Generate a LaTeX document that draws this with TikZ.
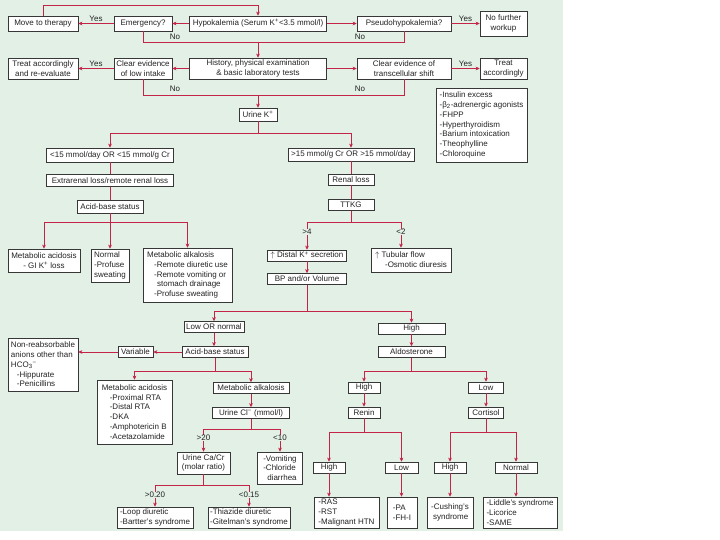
\documentclass[tikz,border=0pt]{standalone}
\usepackage{fontspec}
\setmainfont{Liberation Sans}
\usetikzlibrary{arrows.meta,shadows}
\definecolor{bgc}{RGB}{226,240,230}
\definecolor{redc}{RGB}{196,36,72}
\definecolor{boxc}{RGB}{55,55,55}
\definecolor{txtc}{RGB}{35,35,35}
\newcommand\myfs{\fontsize{8}{9.8}\selectfont}
\begin{document}
\begin{tikzpicture}[x=1pt,y=-1pt,
  bx/.style={draw=boxc, fill=white, line width=0.5pt, inner xsep=1.5pt, inner ysep=0.5pt,
    font=\myfs, text=txtc, align=center,
    drop shadow={shadow xshift=0.8pt,shadow yshift=-0.8pt,fill=black!50,opacity=0.7}},
  lbx/.style={bx, align=left},
  lab/.style={font=\myfs, text=txtc, inner sep=0.5pt},
  labf/.style={lab, fill=bgc},
  ln/.style={draw=redc, line width=0.8pt},
  ar/.style={draw=redc, line width=0.8pt, -{Stealth[length=4pt,width=3.6pt,inset=1pt]}}]
\useasboundingbox (0,0) rectangle (720,540);
\fill[bgc] (0,0) rectangle (563,531);

% row 1
\node[bx, minimum width=70, minimum height=15] (move) at (43,23.5) {Move to therapy};
\node[bx, minimum width=58, minimum height=15] (emerg) at (143,23.5) {Emergency?};
\node[bx, minimum width=137, minimum height=15] (hypo) at (258,23.5) {Hypokalemia (Serum K\textsuperscript{+}<3.5 mmol/l)};
\node[bx, minimum width=94, minimum height=15] (pseudo) at (404,23.5) {Pseudohypokalemia?};
\node[bx, minimum width=47, minimum height=25] (nofur) at (503.5,23.5) {No further\\workup};

% row 2
\node[bx, minimum width=70, minimum height=21] (treat1) at (43,68.5) {Treat accordingly\\and re-evaluate};
\node[bx, minimum width=58, minimum height=21] (low) at (143,68.5) {Clear evidence\\of low intake};
\node[bx, minimum width=137, minimum height=21] (hist) at (258,68.5) {History, physical examination\\\& basic laboratory tests};
\node[bx, minimum width=94, minimum height=21] (trans) at (404,68.5) {Clear evidence of\\transcellular shift};
\node[bx, minimum width=47, minimum height=21] (treat2) at (503.5,68.5) {Treat\\accordingly};

\node[lbx, minimum width=91, minimum height=74] (list) at (481.5,125) {-Insulin excess\\-β\textsubscript{2}-adrenergic agonists\\-FHPP\\-Hyperthyroidism\\-Barium intoxication\\-Theophylline\\-Chloroquine};

\node[bx, minimum width=38, minimum height=13] (urinek) at (258,114.5) {Urine K\textsuperscript{+}};

% left branch
\node[bx, minimum width=127, minimum height=14] (lt15) at (110,155) {<15 mmol/day OR <15 mmol/g Cr};
\node[bx, minimum width=127, minimum height=12] (extra) at (110,180.5) {Extrarenal loss/remote renal loss};
\node[bx, minimum width=66, minimum height=13] (acid1) at (110,206.5) {Acid-base status};
\node[bx, minimum width=72, minimum height=23] (macid1) at (44,260.5) {Metabolic acidosis\\- GI K\textsuperscript{+} loss};
\node[lbx, minimum width=38, minimum height=33] (normal) at (110,265.5) {Normal\\-Profuse\\sweating};
\node[lbx, minimum width=89, minimum height=54] (malk1) at (187.5,275) {Metabolic alkalosis\\\hspace*{7pt}-Remote diuretic use\\\hspace*{7pt}-Remote vomiting or\\\hspace*{10pt}stomach drainage\\\hspace*{7pt}-Profuse sweating};

% right branch
\node[bx, minimum width=126, minimum height=13] (gt15) at (351,154.5) {>15 mmol/g Cr OR >15 mmol/day};
\node[bx, minimum width=46, minimum height=11] (renal) at (351,179.5) {Renal loss};
\node[bx, minimum width=46, minimum height=11] (ttkg) at (351,205) {TTKG};
\node[bx, minimum width=79, minimum height=11] (distal) at (307,255.5) {$\uparrow$ Distal K\textsuperscript{+} secretion};
\node[bx, minimum width=79, minimum height=11] (bp) at (307,279) {BP and/or Volume};
\node[lbx, minimum width=80, minimum height=24] (tub) at (411,260) {$\uparrow$ Tubular flow\\\hspace*{10pt}-Osmotic diuresis};

% low or normal
\node[bx, minimum width=60, minimum height=11] (lowor) at (214,327) {Low OR normal};
\node[bx, minimum width=66, minimum height=11] (acid2) at (215,352) {Acid-base status};
\node[bx, minimum width=35, minimum height=11] (variable) at (135.5,352) {Variable};
\node[lbx, minimum width=70, minimum height=53] (nonre) at (43,364.5) {Non-reabsorbable\\anions other than\\HCO\textsubscript{3}\textsuperscript{−}\\\hspace*{6pt}-Hippurate\\\hspace*{6pt}-Penicillins};
\node[lbx, minimum width=75, minimum height=64] (macid2) at (134.5,412) {Metabolic acidosis\\\hspace*{8pt}-Proximal RTA\\\hspace*{8pt}-Distal RTA\\\hspace*{8pt}-DKA\\\hspace*{8pt}-Amphotericin B\\\hspace*{8pt}-Acetazolamide};
\node[bx, minimum width=76, minimum height=11] (malk2) at (251,388) {Metabolic alkalosis};
\node[bx, minimum width=77, minimum height=11] (urinecl) at (251,413) {Urine Cl\textsuperscript{−} (mmol/l)};
\node[bx, minimum width=53, minimum height=22] (cacr) at (203.5,463) {Urine Ca/Cr\\(molar ratio)};
\node[lbx, minimum width=45, minimum height=32] (vomit) at (280,468) {-Vomiting\\-Chloride\\\hspace*{4pt}diarrhea};
\node[lbx, minimum width=76, minimum height=21] (loop) at (155,517.5) {-Loop diuretic\\-Bartter's syndrome};
\node[lbx, minimum width=82, minimum height=21] (thia) at (249,517.5) {-Thiazide diuretic\\-Gitelman's syndrome};

% high
\node[bx, minimum width=67, minimum height=11] (high1) at (411.5,328.5) {High};
\node[bx, minimum width=67, minimum height=11] (aldo) at (411.5,352) {Aldosterone};
\node[bx, minimum width=32, minimum height=11] (high2) at (364,387.5) {High};
\node[bx, minimum width=32, minimum height=11] (renin) at (364,412.5) {Renin};
\node[bx, minimum width=35, minimum height=11] (low1) at (486,387.5) {Low};
\node[bx, minimum width=35, minimum height=11] (cort) at (486,412.5) {Cortisol};
\node[bx, minimum width=32, minimum height=11] (high3) at (329,467.5) {High};
\node[bx, minimum width=33, minimum height=11] (low2) at (401.5,467.5) {Low};
\node[bx, minimum width=32, minimum height=11] (high4) at (450,467.5) {High};
\node[bx, minimum width=42, minimum height=11] (normal2) at (516,467.5) {Normal};
\node[lbx, minimum width=65, minimum height=31] (ras) at (346.5,512.5) {-RAS\\-RST\\-Malignant HTN};
\node[lbx, minimum width=30, minimum height=31] (pa) at (402,512.5) {-PA\\-FH-I};
\node[lbx, minimum width=46, minimum height=31] (cush) at (450,512.5) {-Cushing's\\\hspace*{2pt}syndrome};
\node[lbx, minimum width=74, minimum height=31] (liddle) at (520,512.5) {-Liddle's syndrome\\-Licorice\\-SAME};

% connectors row 1
\draw[ar] (move.north) -- ++(0,-10) -| (hypo.north);
\draw[ar] (hypo.west) -- (emerg.east);
\draw[ar] (emerg.west) -- (move.east) node[lab, midway, above=1pt] {Yes};
\draw[ar] (hypo.east) -- (pseudo.west);
\draw[ar] (pseudo.east) -- (nofur.west) node[lab, midway, above=1pt] {Yes};
\coordinate (m1) at (258,42);
\draw[ln] (emerg.south) |- (m1);
\draw[ln] (pseudo.south) |- (m1);
\draw[ar] (m1) -- (hist.north);
\node[lab] (no1) at (175,37) {No};
\node[lab] (no2) at (360,37) {No};

% connectors row 2
\draw[ar] (hist.west) -- (low.east);
\draw[ar] (low.west) -- (treat1.east) node[lab, midway, above=1pt] {Yes};
\draw[ar] (hist.east) -- (trans.west);
\draw[ar] (trans.east) -- (treat2.west) node[lab, midway, above=1pt] {Yes};
\coordinate (m2) at (258,95);
\draw[ln] (low.south) |- (m2);
\draw[ln] (trans.south) |- (m2);
\draw[ar] (m2) -- (urinek.north);
\node[lab] (no3) at (175,89) {No};
\node[lab] (no4) at (360,89) {No};

% urine K split
\coordinate (s1) at (258,133);
\draw[ln] (urinek.south) -- (s1);
\draw[ar] (s1) -| (lt15.north);
\draw[ar] (s1) -| (gt15.north);
\draw[ln] (lt15) -- (extra);
\draw[ln] (extra) -- (acid1);
\draw[ln] (gt15) -- (renal);
\draw[ln] (renal) -- (ttkg);

% acid-base 1 split
\coordinate (s2) at (110,222);
\draw[ln] (acid1.south) -- (s2);
\draw[ar] (s2) -| (macid1.north);
\draw[ar] (s2) -- (normal.north);
\draw[ar] (s2) -| (malk1.north);

% TTKG split
\coordinate (s3) at (351,222);
\coordinate (s3r) at (401,222);
\draw[ln] (ttkg.south) -- (s3);
\draw[ar] (s3) -| (distal.north);
\draw[ln] (s3) -- (s3r);
\draw[ar] (s3r) -- (s3r |- tub.north);
\node[labf] (g4) at (307,232) {>4};
\node[labf] (l2) at (401,232) {<2};
\draw[ar] (distal) -- (bp);

% BP split
\coordinate (s4) at (307,311);
\draw[ln] (bp.south) -- (s4);
\draw[ar] (s4) -| (lowor.north);
\draw[ar] (s4) -| (high1.north);
\draw[ar] (lowor.south) -- (lowor.south |- acid2.north);
\draw[ar] (acid2.west) -- (variable.east);
\draw[ar] (variable.west) -- (nonre.east |- variable.west);

% acid-base 2 split
\coordinate (s5) at (215,371);
\draw[ln] (acid2.south) -- (s5);
\draw[ar] (s5) -| (macid2.north);
\draw[ar] (s5) -| (malk2.north);
\draw[ar] (malk2) -- (urinecl);
\coordinate (s6) at (251,429);
\draw[ln] (urinecl.south) -- (s6);
\draw[ar] (s6) -| (cacr.north);
\draw[ar] (s6) -| (vomit.north);
\node[labf] (g20) at (203.5,438) {>20};
\node[labf] (l10) at (280,438) {<10};
\coordinate (s7) at (203.5,485);
\draw[ln] (cacr.south) -- (s7);
\draw[ar] (s7) -| (loop.north);
\draw[ar] (s7) -| (thia.north);
\node[labf] (g020) at (155,495) {>0.20};
\node[labf] (l015) at (249,495) {<0.15};

% high branch
\draw[ar] (high1) -- (aldo);
\coordinate (s8) at (411.5,371);
\draw[ln] (aldo.south) -- (s8);
\draw[ar] (s8) -| (high2.north);
\draw[ar] (s8) -| (low1.north);
\draw[ar] (high2) -- (renin);
\draw[ar] (low1) -- (cort);
\coordinate (s9) at (364,432);
\draw[ln] (renin.south) -- (s9);
\draw[ar] (s9) -| (high3.north);
\draw[ar] (s9) -| (low2.north);
\coordinate (s10) at (486,432);
\draw[ln] (cort.south) -- (s10);
\draw[ar] (s10) -| (high4.north);
\draw[ar] (s10) -| (normal2.north);
\draw[ar] (high3.south) -- (high3.south |- ras.north);
\draw[ar] (low2.south) -- (low2.south |- pa.north);
\draw[ar] (high4.south) -- (high4.south |- cush.north);
\draw[ar] (normal2.south) -- (normal2.south |- liddle.north);
\end{tikzpicture}
\end{document}
